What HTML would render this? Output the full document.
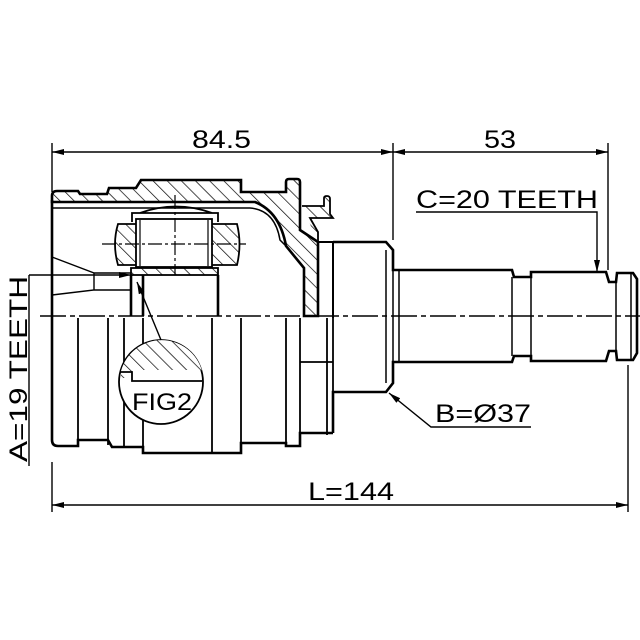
<!DOCTYPE html>
<html><head><meta charset="utf-8"><style>
html,body{margin:0;padding:0;background:#fff}
svg{display:block}
text{font-family:"Liberation Sans",sans-serif;fill:#000}
</style></head><body>
<svg width="640" height="640" viewBox="0 0 640 640" xmlns="http://www.w3.org/2000/svg">
<defs>
<pattern id="h" patternUnits="userSpaceOnUse" width="10" height="10" patternTransform="rotate(-45)">
<rect width="10" height="10" fill="#fff"/><line x1="0" y1="0" x2="0" y2="10" stroke="#000" stroke-width="1.4"/>
</pattern>
<marker id="a" markerWidth="12" markerHeight="6" refX="12" refY="3" orient="auto" markerUnits="userSpaceOnUse">
<path d="M0,0 L12,3 L0,6 Z" fill="#000"/></marker>
</defs>
<g fill="none" stroke="#000">
<line x1="52" y1="143" x2="52" y2="192" stroke-width="1.4"/>
<line x1="52" y1="462" x2="52" y2="512" stroke-width="1.4"/>
<line x1="393" y1="143" x2="393" y2="240" stroke-width="1.4"/>
<line x1="608" y1="143" x2="608" y2="270" stroke-width="1.4"/>
<line x1="628" y1="365" x2="628" y2="512" stroke-width="1.4"/>
<line x1="52" y1="152" x2="393" y2="152" stroke-width="1.4" marker-end="url(#a)"/>
<line x1="393" y1="152" x2="608" y2="152" stroke-width="1.4" marker-end="url(#a)"/>
<line x1="52" y1="505" x2="628" y2="505" stroke-width="1.4" marker-end="url(#a)"/>
<path d="M52,152 l12,-3 v6 z M393,152 l12,-3 v6 z M52,505 l12,-3 v6 z" fill="#000" stroke="none"/>

<path d="M52,202 V196 Q52,191 57,191 H78 L80,194 H107 L109,188 H136 L141,180 H241 V192 H286 V182 Q286,179 289,179 H297 Q300,179 300,182 V230 L318,242 V316 H304 V268 L286,246 Q280,212 255,202 Z" fill="url(#h)" stroke-width="2.6"/>
<path d="M52,208 H250 Q275,210 280,240 L286,246" stroke-width="1.5"/>
<path d="M52,200 V440 Q52,446 58,446 H78 V440 H108 L112,447 H143 V453 H212 V453 H241 V443 H286 V446 H300 V433 H333" stroke-width="2.6"/>
<g stroke-width="1.8">
<line x1="78" y1="318" x2="78" y2="445"/><line x1="108" y1="318" x2="108" y2="445"/>
<line x1="124" y1="318" x2="124" y2="447"/><line x1="143" y1="318" x2="143" y2="453"/>
<line x1="212" y1="318" x2="212" y2="453"/><line x1="241" y1="318" x2="241" y2="443"/>
<line x1="286" y1="318" x2="286" y2="445"/><line x1="300" y1="318" x2="300" y2="445"/>
<line x1="327" y1="318" x2="327" y2="435"/><line x1="333" y1="318" x2="333" y2="433"/>
<line x1="300" y1="362" x2="333" y2="362"/>
</g>
<path d="M302,206 H324 V198 Q324,196 327,196 Q330,196 330,199 V214 L333,218 H310 L318,232 V242" fill="url(#h)" stroke-width="1.8"/>
<path d="M318,242 H333 V318" stroke-width="2"/>
<path d="M333,242 H386 L393,250 V270 H512 L514,277 H531 V272 H606 L609,282 H616 L617,273 H633 L637,279 V353 L633,360 H617 L616,351 H609 L606,361 H531 V356 H514 L512,362 H393 V383 L386,392 H333 V433" stroke-width="2.6"/>
<g stroke-width="1.5">
<line x1="393" y1="270" x2="393" y2="362"/><line x1="399" y1="270" x2="399" y2="362"/>
<line x1="512" y1="277" x2="512" y2="356"/><line x1="531" y1="272" x2="531" y2="361"/>
<line x1="616" y1="282" x2="616" y2="351"/><line x1="631" y1="273" x2="631" y2="360"/>
<line x1="386" y1="250" x2="386" y2="383"/>
</g>
<path d="M118,224 H237 Q242,244 237,265 H118 Q112,244 118,224 Z" fill="url(#h)" stroke-width="1.8"/>
<rect x="136" y="219" width="76" height="48" fill="#fff" stroke-width="1.8"/>
<path d="M132,222 V213 H218 V222 M140,213 Q176,200 212,213" stroke-width="1.8"/>
<line x1="140" y1="220" x2="140" y2="266" stroke-width="1.2"/><line x1="208" y1="220" x2="208" y2="266" stroke-width="1.2"/>
<rect x="131" y="268" width="87" height="7" fill="url(#h)" stroke-width="1.8"/>
<path d="M131,275 V316 M143,275 V316 M218,275 V316" stroke-width="2.6"/>
<path d="M52,257 L94,273 V290 L52,295 M94,273 H131 M94,290 H131" stroke-width="1.4"/>
<line x1="40" y1="316" x2="640" y2="316" stroke-width="1.4" stroke-dasharray="26,4,5,4"/>
<line x1="175" y1="195" x2="175" y2="275" stroke-width="1.2" stroke-dasharray="14,3,3,3"/>
<line x1="102" y1="244" x2="246" y2="244" stroke-width="1.2" stroke-dasharray="14,3,3,3"/>
<circle cx="161" cy="382" r="42" fill="#fff" stroke-width="1.8"/>
<path d="M121,371 A42,42 0 0 1 202,371 V370 H132 V378 H121 Z" fill="url(#h)" stroke="none"/>
<path d="M120,372 H132 V381 H202" stroke-width="1.8"/>
<line x1="161" y1="340" x2="137" y2="282" stroke-width="1.4" marker-end="url(#a)"/>
<line x1="29" y1="275" x2="29" y2="466" stroke-width="1.4"/>
<line x1="29" y1="275" x2="131" y2="275" stroke-width="1.4" marker-end="url(#a)"/>
<path d="M416,212 H597 V272" stroke-width="1.4" marker-end="url(#a)"/>
<path d="M531,427 H431 L389,393" stroke-width="1.4" marker-end="url(#a)"/>
</g>
<g font-size="25">
<text x="192" y="148" textLength="59" lengthAdjust="spacingAndGlyphs">84.5</text>
<text x="484" y="148" textLength="32" lengthAdjust="spacingAndGlyphs">53</text>
<text x="308" y="500" textLength="86" lengthAdjust="spacingAndGlyphs">L=144</text>
<text x="416" y="208" textLength="182" lengthAdjust="spacingAndGlyphs">C=20 TEETH</text>
<text x="435" y="422" textLength="96" lengthAdjust="spacingAndGlyphs">B=Ø37</text>
<text x="132" y="410" font-size="24" textLength="60" lengthAdjust="spacingAndGlyphs">FIG2</text>
<text transform="translate(27,462) rotate(-90)" x="0" y="0" textLength="186" lengthAdjust="spacingAndGlyphs">A=19 TEETH</text>
</g>
</svg>
</body></html>
